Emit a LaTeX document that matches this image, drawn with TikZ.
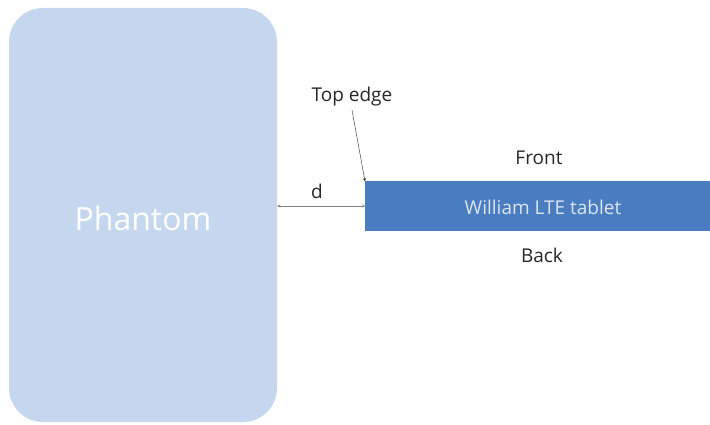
\documentclass[tikz,border=0pt]{standalone}
\usepackage{fontspec}
\setmainfont{Open Sans}
\usetikzlibrary{positioning}
\definecolor{phantomblue}{HTML}{C5D7EF}
\definecolor{tabletblue}{HTML}{4A7DC0}
\definecolor{labelgray}{HTML}{262626}
\tikzset{
  phantombox/.style = {fill=phantomblue, rounded corners=34pt, minimum width=268pt, minimum height=414pt, text=white, font=\fontsize{32}{36}\selectfont},
  tabletbox/.style = {fill=tabletblue, minimum width=345pt, minimum height=49pt, text=white!80!tabletblue, font=\fontsize{19}{22}\selectfont},
  sidelabel/.style = {text=labelgray, font=\fontsize{19}{22}\selectfont}
}
\begin{document}
\begin{tikzpicture}[x=1pt, y=-1pt]
					\useasboundingbox (0,0) rectangle (710,425);
					\node[phantombox] (phantom) at (143,215) {};
					\node[phantombox, fill=none] (phantomlabel) at (143,218) {Phantom};
					\node[tabletbox, anchor=west] (tablet) at (365,206) {};
					\node[tabletbox, fill=none] (tabletlabel) at (543,207) {William LTE tablet};
					
					\node[sidelabel] (front) at (539,158) {Front};
					\node[sidelabel] (back) at (542,255) {Back};
					\node[sidelabel] (topedge) at (352,97) {Top edge};
					\node[sidelabel] (dlabel) at (317,191) {d};
					
					\draw[gray, thin, <->, >=stealth] (phantom.east |- tablet.west) -- (tablet.west);
					\draw[labelgray, thin, ->, >=stealth] (topedge.south) -- (tablet.north west);
				\end{tikzpicture}
\end{document}
